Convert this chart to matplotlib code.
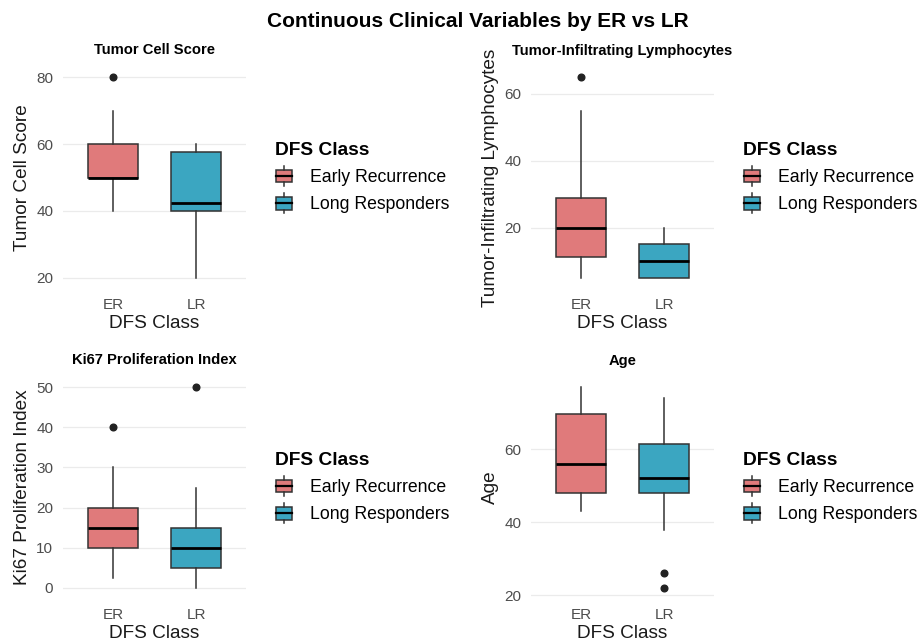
import matplotlib
matplotlib.use("Agg")
import matplotlib.pyplot as plt
from matplotlib.patches import Rectangle, Patch
from matplotlib.lines import Line2D
from matplotlib.legend_handler import HandlerBase

plt.rcParams['font.family'] = ['Liberation Sans', 'DejaVu Sans']

# ---------------- data ----------------
categories = ["ER", "LR"]
legend_labels = ["Early Recurrence", "Long Responders"]
panel_titles = ["Tumor Cell Score", "Tumor-Infiltrating Lymphocytes",
                "Ki67 Proliferation Index", "Age"]

# five-number summaries: whisker low, q1, median, q3, whisker high
tcs_ER = [40, 50, 50, 60, 70]
tcs_LR = [20, 40, 42.5, 57.5, 60]
tcs_out_ER = [80]
tcs_out_LR = []

til_ER = [5, 11.25, 20, 28.75, 55]
til_LR = [5, 5, 10, 15, 20]
til_out_ER = [65]
til_out_LR = []

ki_ER = [2.5, 10, 15, 20, 30]
ki_LR = [0, 5, 10, 15, 25]
ki_out_ER = [40]
ki_out_LR = [50]

age_ER = [43, 48, 56, 69.5, 77]
age_LR = [38, 48, 52, 61.5, 74]
age_out_ER = []
age_out_LR = [22, 26]

tcs_ticks = [20, 40, 60, 80]
til_ticks = [20, 40, 60]
ki_ticks = [0, 10, 20, 30, 40, 50]
age_ticks = [20, 40, 60]

# ---------------- style ----------------
C_ER = "#E07A7B"
C_LR = "#3BA6C1"
EDGE = "#333333"
W, H = 920, 643


class BoxKeyHandler(HandlerBase):
    def create_artists(self, legend, orig_handle, xdescent, ydescent,
                       width, height, fontsize, trans):
        x0, y0 = -xdescent, -ydescent
        cx = x0 + width / 2
        rect = Rectangle((x0 + 0.04 * width, y0 + 0.12 * height), 0.92 * width,
                         0.76 * height, facecolor=orig_handle.get_facecolor(),
                         edgecolor=EDGE, linewidth=1.1, transform=trans)
        wl = Line2D([cx, cx], [y0 - 0.1 * height, y0 + 0.12 * height],
                    color=EDGE, lw=1.1, transform=trans)
        wh = Line2D([cx, cx], [y0 + 0.88 * height, y0 + 1.1 * height],
                    color=EDGE, lw=1.1, transform=trans)
        med = Line2D([x0 + 0.04 * width, x0 + 0.96 * width],
                     [y0 + 0.5 * height, y0 + 0.5 * height],
                     color="black", lw=1.6, transform=trans)
        return [rect, wl, wh, med]


def stats(vals, fliers):
    return dict(whislo=vals[0], q1=vals[1], med=vals[2], q3=vals[3],
                whishi=vals[4], fliers=fliers)


fig = plt.figure(figsize=(W / 100, H / 100), dpi=100)

panels = [
    (tcs_ER, tcs_LR, tcs_out_ER, tcs_out_LR, tcs_ticks, "Tumor Cell Score", (63, 67)),
    (til_ER, til_LR, til_out_ER, til_out_LR, til_ticks, "Tumor-Infiltrating Lymphocytes", (531, 67)),
    (ki_ER, ki_LR, ki_out_ER, ki_out_LR, ki_ticks, "Ki67 Proliferation Index", (63, 377)),
    (age_ER, age_LR, age_out_ER, age_out_LR, age_ticks, "Age", (531, 377)),
]
pw, ph = 183, 221

for i, (er, lr, oer, olr, ticks, ylab, (px, py)) in enumerate(panels):
    ax = fig.add_axes([px / W, 1 - (py + ph) / H, pw / W, ph / H])
    bp = ax.bxp([stats(er, oer), stats(lr, olr)], positions=[1, 2], widths=0.6,
                patch_artist=True, showcaps=False,
                boxprops=dict(edgecolor=EDGE, linewidth=1.1),
                medianprops=dict(color="black", linewidth=2.0),
                whiskerprops=dict(color=EDGE, linewidth=1.1),
                flierprops=dict(marker="o", markerfacecolor="#222222",
                                markeredgecolor="#222222", markersize=4.8))
    for patch, c in zip(bp["boxes"], [C_ER, C_LR]):
        patch.set_facecolor(c)
        patch.set_zorder(2)
    allv = er + lr + oer + olr
    lo, hi = min(allv), max(allv)
    pad = 0.05 * (hi - lo)
    ax.set_ylim(lo - pad, hi + pad)
    ax.set_xlim(0.4, 2.6)
    ax.set_xticks([1, 2])
    ax.set_xticklabels(categories)
    ax.set_yticks(ticks)
    ax.tick_params(axis="both", length=0, pad=7.0, labelsize=11,
                   labelcolor="#4D4D4D")
    ax.grid(axis="y", color="#EBEBEB", linewidth=0.9)
    ax.set_axisbelow(True)
    for s in ax.spines.values():
        s.set_visible(False)
    ax.set_title(panel_titles[i], fontsize=10.6, fontweight="bold", pad=9)
    ax.set_xlabel("DFS Class", fontsize=13.7, labelpad=2.5, color="#1A1A1A")
    ax.set_ylabel(ylab, fontsize=13.7, labelpad=4, color="#1A1A1A")
    handles = [Patch(facecolor=C_ER), Patch(facecolor=C_LR)]
    leg = ax.legend(handles, legend_labels, title="DFS Class",
                    loc="center left", bbox_to_anchor=(1.16, 0.5),
                    frameon=False, fontsize=12.7, borderpad=0, borderaxespad=0,
                    handlelength=1.0, handleheight=1.1, handletextpad=0.95,
                    labelspacing=0.5, alignment="left",
                    title_fontproperties={"size": 13.8, "weight": "bold"},
                    handler_map={Patch: BoxKeyHandler()})

fig.text(477.5 / W, 1 - 21.5 / H, "Continuous Clinical Variables by ER vs LR",
         ha="center", va="center", fontsize=15, fontweight="bold")

fig.savefig("out.png", dpi=100)
